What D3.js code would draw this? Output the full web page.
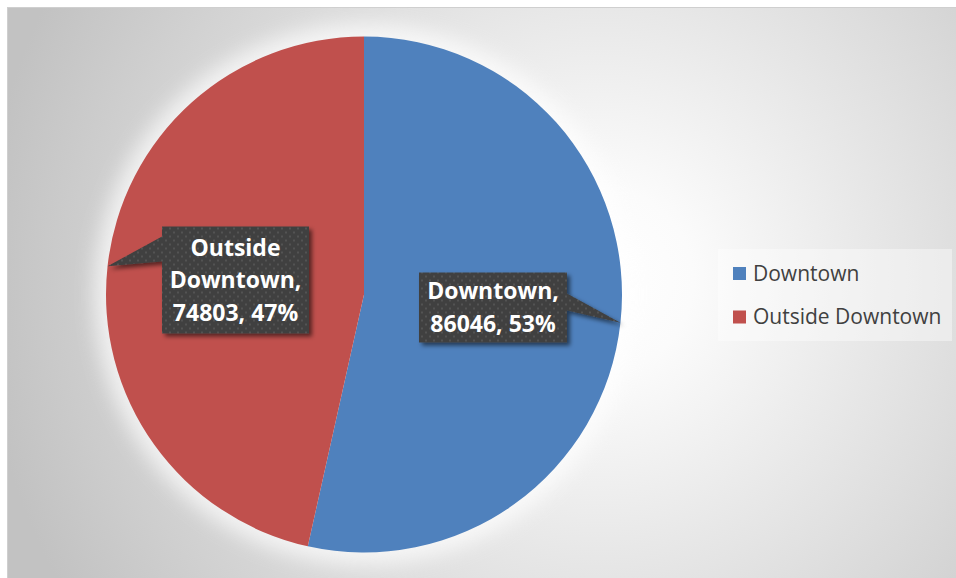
<!DOCTYPE html>
<html>
<head>
<meta charset="utf-8">
<script src="https://cdn.jsdelivr.net/npm/d3@7"></script>
<style>
  html, body { margin: 0; padding: 0; background: #ffffff; }
  svg { display: block; }
</style>
</head>
<body>
<svg id="chart" width="956" height="578"></svg>
<script>
// Trips by area
const categories = ["Downtown", "Outside Downtown"];
const values = [86046, 74803];
const sliceColors = ["#4f81bd", "#c0504d"];

const W = 956, H = 578;
const svg = d3.select("#chart");
const defs = svg.append("defs");

// Chart area background: soft radial grey gradient
const bg = defs.append("radialGradient")
  .attr("id", "bgGrad")
  .attr("gradientUnits", "userSpaceOnUse")
  .attr("cx", 600).attr("cy", 280).attr("r", 620)
  .attr("fx", 600).attr("fy", 280);
bg.append("stop").attr("offset", 0).attr("stop-color", "#ffffff");
bg.append("stop").attr("offset", 0.15).attr("stop-color", "#fbfbfb");
bg.append("stop").attr("offset", 1).attr("stop-color", "#c2c2c2");

// Dotted texture for the callout boxes
const pat = defs.append("pattern")
  .attr("id", "dots")
  .attr("patternUnits", "userSpaceOnUse")
  .attr("width", 8).attr("height", 8);
pat.append("rect").attr("width", 8).attr("height", 8).attr("fill", "#3f3f3f");
pat.append("circle").attr("cx", 2).attr("cy", 2).attr("r", 0.9).attr("fill", "#5c5c5c");
pat.append("circle").attr("cx", 6).attr("cy", 6).attr("r", 0.9).attr("fill", "#5c5c5c");

const shadow = defs.append("filter").attr("id", "shadow")
  .attr("x", "-20%").attr("y", "-20%").attr("width", "150%").attr("height", "150%");
shadow.append("feDropShadow")
  .attr("dx", 3).attr("dy", 3).attr("stdDeviation", 2)
  .attr("flood-color", "#000").attr("flood-opacity", 0.55);

const glow = defs.append("filter").attr("id", "glow")
  .attr("x", "-30%").attr("y", "-30%").attr("width", "160%").attr("height", "160%");
glow.append("feGaussianBlur").attr("stdDeviation", 10);

svg.append("rect")
  .attr("x", 7.5).attr("y", 7.5)
  .attr("width", W - 7).attr("height", H - 7)
  .attr("fill", "url(#bgGrad)")
  .attr("stroke", "#cfcfcf").attr("stroke-width", 1);

// Pie
const cx = 364, cy = 294.5, R = 258;
const color = d3.scaleOrdinal().domain(categories).range(sliceColors);
const pie = d3.pie().sort(null).value(d => d.value);
const data = categories.map((c, i) => ({ category: c, value: values[i] }));
const arcs = pie(data);
const arc = d3.arc().innerRadius(0).outerRadius(R);
const total = d3.sum(values);

const g = svg.append("g").attr("transform", `translate(${cx},${cy})`);

g.append("circle")
  .attr("r", R + 12)
  .attr("fill", "#ffffff")
  .attr("opacity", 0.7)
  .attr("filter", "url(#glow)");

g.selectAll("path.slice")
  .data(arcs)
  .join("path")
  .attr("class", "slice")
  .attr("d", arc)
  .attr("fill", d => color(d.data.category));

// Callout labels: box placed beside the slice, pointer to the slice edge at mid-angle
const calloutLayout = {
  "Downtown": { x: 55, y: -22, w: 148, h: 70, side: "right", p0: 21, p1: 38 },
  "Outside Downtown": { x: -202, y: -68, w: 147, h: 107, side: "left", p0: 10, p1: 35 }
};

arcs.forEach(d => {
  const mid = (d.startAngle + d.endAngle) / 2;
  const tx = R * Math.sin(mid), ty = -R * Math.cos(mid);
  const L = calloutLayout[d.data.category];
  const x0 = L.x, y0 = L.y, x1 = L.x + L.w, y1 = L.y + L.h;
  let pts;
  if (L.side === "right") {
    pts = [[x0, y0], [x1, y0], [x1, y0 + L.p0], [tx, ty], [x1, y0 + L.p1], [x1, y1], [x0, y1]];
  } else {
    pts = [[x0, y0], [x1, y0], [x1, y1], [x0, y1], [x0, y0 + L.p1], [tx, ty], [x0, y0 + L.p0]];
  }
  g.append("path")
    .attr("d", d3.line()(pts) + "Z")
    .attr("fill", "url(#dots)")
    .attr("filter", "url(#shadow)");

  const pct = Math.round(d.data.value / total * 100);
  const words = d.data.category.split(" ");
  const lines = words.length > 1
    ? [words[0], words.slice(1).join(" ") + ",", `${d.data.value}, ${pct}%`]
    : [d.data.category + ",", `${d.data.value}, ${pct}%`];
  const lh = 32.5;
  const firstBase = (y0 + y1) / 2 - (lines.length - 1) * lh / 2 + 8;
  const t = g.append("text")
    .attr("text-anchor", "middle")
    .attr("font-family", "'Open Sans', sans-serif")
    .attr("font-weight", "bold")
    .attr("font-size", 23)
    .attr("fill", "#ffffff");
  lines.forEach((ln, i) => {
    t.append("tspan")
      .attr("x", (x0 + x1) / 2)
      .attr("y", firstBase + i * lh)
      .text(ln);
  });
});

// Legend
const lg = svg.append("g").attr("transform", "translate(718,249)");
lg.append("rect")
  .attr("width", 234).attr("height", 92)
  .attr("fill", "#ffffff").attr("opacity", 0.4);
const items = lg.selectAll("g.item")
  .data(categories)
  .join("g")
  .attr("class", "item")
  .attr("transform", (d, i) => `translate(15,${18 + i * 43.5})`);
items.append("rect")
  .attr("width", 13).attr("height", 13)
  .attr("fill", d => color(d));
items.append("text")
  .attr("x", 20).attr("y", 13.5)
  .attr("font-family", "'Open Sans', sans-serif")
  .attr("font-size", 21)
  .attr("fill", "#404040")
  .text(d => d);
</script>
</body>
</html>
